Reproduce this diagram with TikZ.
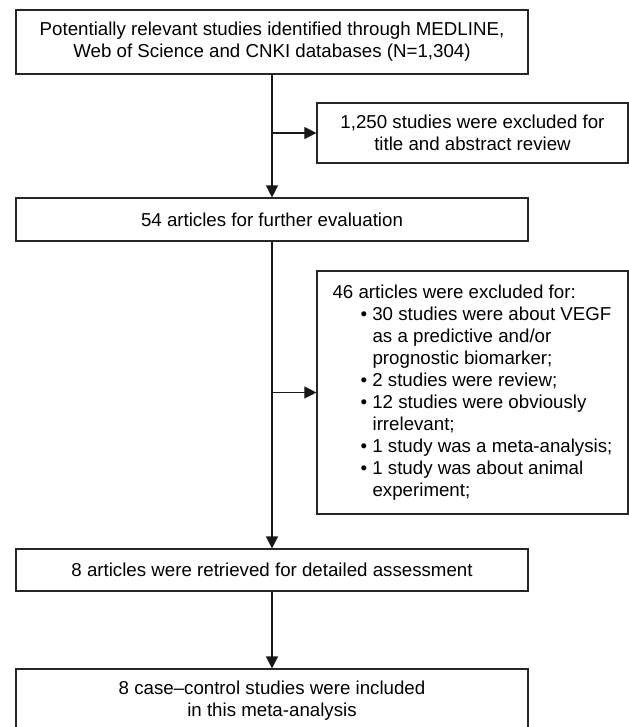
\documentclass[tikz,border=0pt]{standalone}
\usepackage{fontspec}
\setmainfont{Liberation Sans}
\usetikzlibrary{arrows.meta}

\tikzset{
  flowbox/.style={draw=black!85, line width=0.8pt, minimum width=128mm, align=center, inner sep=0pt},
  sidebox/.style={draw=black!85, line width=0.8pt, minimum width=77.75mm, inner sep=0pt},
  flowline/.style={draw=black!90, line width=0.8pt, -{Triangle[length=3mm, width=3mm]}}
}
\newcommand{\bul}{\hspace*{7mm}\textbullet\ }
\newcommand{\cont}{\hspace*{10mm}}

\begin{document}
\begin{tikzpicture}[x=0.25mm, y=-0.25mm, font=\fontsize{13.3}{15.6}\selectfont]
    \useasboundingbox (0,0) rectangle (629,727);
    \clip (0,0) rectangle (629,727);

      % Records identified
      \node[flowbox, minimum height=16mm] (ident) at (272,42)
        {Potentially relevant studies identified through MEDLINE,\\Web of Science and CNKI databases (N=1,304)};

      % Excluded after screening
      \node[sidebox, minimum height=15mm, align=center] (screen) at (472.5,133)
        {1,250 studies were excluded for\\title and abstract review};

      % Full-text evaluation
      \node[flowbox, minimum height=10.75mm] (evalu) at (272,219.5)
        {54 articles for further evaluation};

      % Excluded articles with reasons
      \node[sidebox, minimum height=60.75mm, align=left] (reasons) at (472.5,392.5)
        {46 articles were excluded for:\\
         \bul 30 studies were about VEGF\\
         \cont as a predictive and/or\\
         \cont prognostic biomarker;\\
         \bul 2 studies were review;\\
         \bul 12 studies were obviously\\
         \cont irrelevant;\\
         \bul 1 study was a meta-analysis;\\
         \bul 1 study was about animal\\
         \cont experiment;};

      % Retrieved for assessment
      \node[flowbox, minimum height=10.5mm] (retrieved) at (272,570)
        {8 articles were retrieved for detailed assessment};

      % Included studies
      \node[flowbox, minimum height=16mm] (included) at (272,701)
        {8 case--control studies were included\\in this meta-analysis};

      % Main flow and side branches
      \coordinate (fork1) at (ident.south |- screen.west);
      \coordinate (fork2) at (evalu.south |- reasons.west);
      \draw[flowline] (ident.south) -- (evalu.north);
      \draw[flowline] (fork1) -- (screen.west);
      \draw[flowline] (evalu.south) -- (retrieved.north);
      \draw[flowline] (fork2) -- (reasons.west);
      \draw[flowline] (retrieved.south) -- (included.north);
    \end{tikzpicture}
\end{document}
